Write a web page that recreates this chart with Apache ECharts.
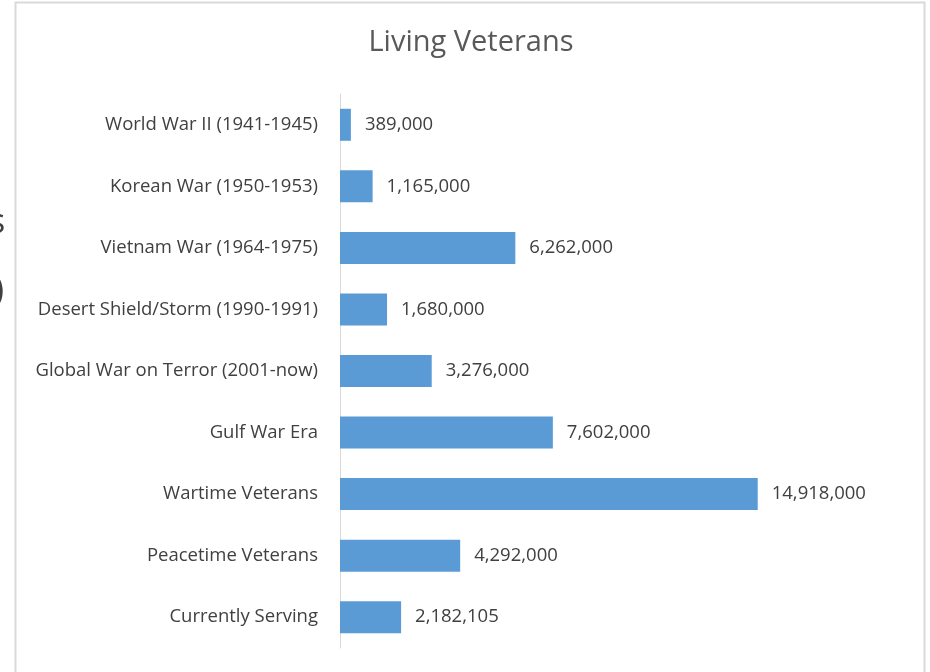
<!DOCTYPE html>
<html>
<head>
<meta charset="utf-8">
<script src="https://cdn.jsdelivr.net/npm/echarts@6/dist/echarts.min.js"></script>
<style>
  html, body { margin: 0; padding: 0; background: #fff; }
  #chart { width: 930px; height: 672px; }
</style>
</head>
<body>
<div id="chart"></div>
<script>
  // categories top to bottom
  var categories = [
    'World War II (1941-1945)',
    'Korean War (1950-1953)',
    'Vietnam War (1964-1975)',
    'Desert Shield/Storm (1990-1991)',
    'Global War on Terror (2001-now)',
    'Gulf War Era',
    'Wartime Veterans',
    'Peacetime Veterans',
    'Currently Serving'
  ];
  var veterans = [389000, 1165000, 6262000, 1680000, 3276000, 7602000, 14918000, 4292000, 2182105];

  var font = '"Open Sans", Lato, sans-serif';
  var myChart = echarts.init(document.getElementById('chart'));
  myChart.setOption({
    animation: false,
    title: {
      text: 'Living Veterans',
      left: 466,
      top: 23,
      textAlign: 'center',
      textStyle: { fontFamily: font, fontSize: 29, fontWeight: 'normal', color: '#595959' }
    },
    graphic: [
      {
        type: 'rect',
        shape: { x: 15.5, y: 2.5, width: 909, height: 700 },
        style: { fill: 'none', stroke: '#d9d9d9', lineWidth: 2 },
        z: -1
      },
      { type: 'text', x: -11, y: 206, style: { text: 's', font: '34px ' + font, fill: '#404040' } },
      { type: 'text', x: -6, y: 274, style: { text: ')', font: '34px ' + font, fill: '#404040' } }
    ],
    grid: {
      left: 340,
      top: 94,
      width: 448,
      height: 554
    },
    xAxis: {
      type: 'value',
      min: 0,
      max: 16000000,
      show: false
    },
    yAxis: {
      type: 'category',
      data: categories,
      inverse: true,
      axisLine: { show: true, lineStyle: { color: '#d9d9d9', width: 1 } },
      axisTick: { show: false },
      axisLabel: { fontFamily: font, fontSize: 18.5, color: '#404040', margin: 22 }
    },
    series: [
      {
        type: 'bar',
        data: veterans,
        barWidth: 32,
        itemStyle: { color: '#5b9bd5' },
        label: {
          show: true,
          position: 'right',
          distance: 14,
          fontFamily: font,
          fontSize: 18.5,
          color: '#404040',
          formatter: function (p) { return p.value.toLocaleString('en-US'); }
        }
      }
    ]
  });
</script>
</body>
</html>
